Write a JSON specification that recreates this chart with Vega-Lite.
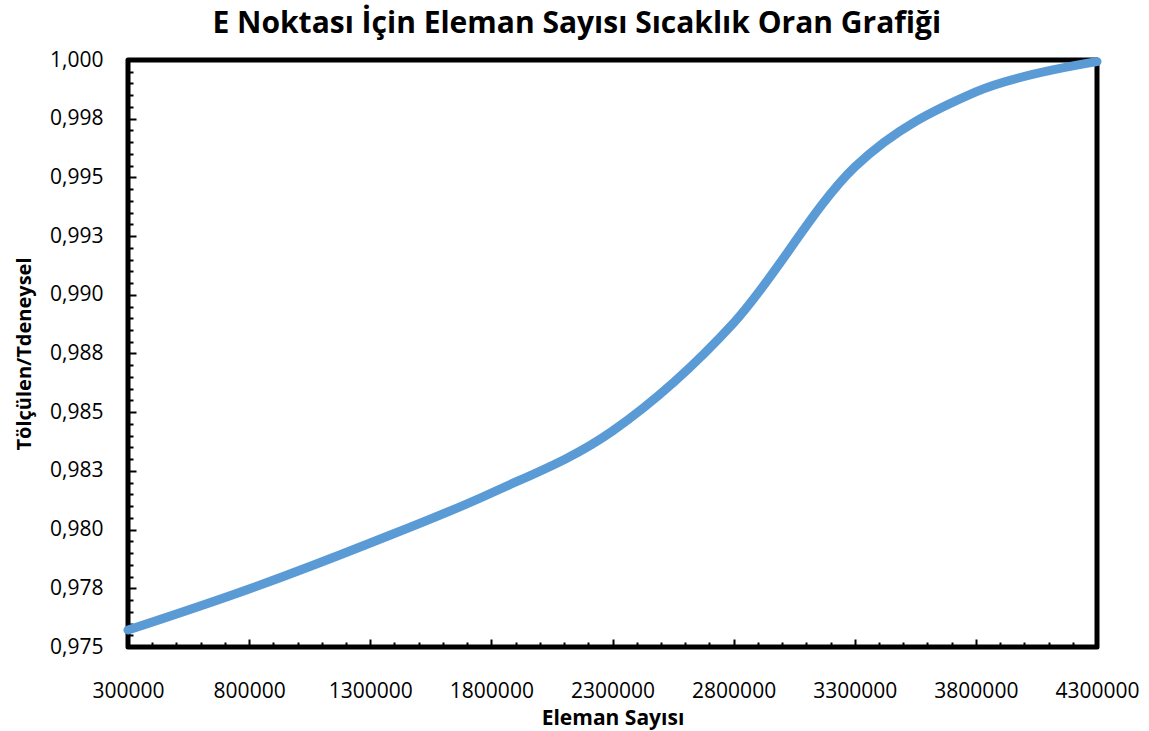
{
  "$schema": "https://vega.github.io/schema/vega-lite/v6.json",
  "width": 969,
  "height": 587,
  "autosize": {"type": "none"},
  "padding": {"left": 128, "top": 60, "right": 52, "bottom": 84},
  "background": "white",
  "title": {
    "text": "E Noktası İçin Eleman Sayısı Sıcaklık Oran Grafiği",
    "font": "Open Sans",
    "fontSize": 30,
    "fontWeight": "bold",
    "color": "black",
    "anchor": "middle",
    "frame": "bounds",
    "offset": 5
  },
  "config": {
    "view": {"stroke": "black", "strokeWidth": 5, "strokeJoin": "round"},
    "axis": {
      "domain": false,
      "grid": false,
      "tickColor": "black",
      "tickWidth": 2,
      "labelFont": "Open Sans",
      "labelFontSize": 21,
      "labelColor": "black",
      "labelOverlap": false,
      "labelFlush": false,
      "titleFont": "Open Sans",
      "titleFontWeight": "bold",
      "titleColor": "black"
    }
  },
  "data": {
    "values": [
      {"eleman": 300000, "oran": 0.97572},
      {"eleman": 800000, "oran": 0.97747},
      {"eleman": 1300000, "oran": 0.97943},
      {"eleman": 1800000, "oran": 0.98156},
      {"eleman": 2300000, "oran": 0.9842},
      {"eleman": 2800000, "oran": 0.9888},
      {"eleman": 3300000, "oran": 0.99544},
      {"eleman": 3800000, "oran": 0.99864},
      {"eleman": 4300000, "oran": 0.99993}
    ]
  },
  "mark": {
    "type": "line",
    "interpolate": "cardinal",
    "color": "#5B9BD5",
    "strokeWidth": 9,
    "strokeCap": "round"
  },
  "encoding": {
    "x": {
      "field": "eleman",
      "type": "quantitative",
      "scale": {"domain": [300000, 4300000], "nice": false, "zero": false},
      "axis": {
        "title": "Eleman Sayısı",
        "titleFontSize": 21,
        "titlePadding": 3,
        "format": "d",
        "values": [300000, 400000, 500000, 600000, 700000, 800000, 900000, 1000000, 1100000, 1200000, 1300000, 1400000, 1500000, 1600000, 1700000, 1800000, 1900000, 2000000, 2100000, 2200000, 2300000, 2400000, 2500000, 2600000, 2700000, 2800000, 2900000, 3000000, 3100000, 3200000, 3300000, 3400000, 3500000, 3600000, 3700000, 3800000, 3900000, 4000000, 4100000, 4200000, 4300000],
        "labelExpr": "(datum.value - 300000) % 500000 == 0 ? datum.label : ''",
        "tickSize": {"condition": {"test": "(datum.value - 300000) % 500000 == 0", "value": -8}, "value": -5},
        "labelPadding": 41
      }
    },
    "y": {
      "field": "oran",
      "type": "quantitative",
      "scale": {"domain": [0.975, 1.0], "nice": false, "zero": false},
      "axis": {
        "title": "Tölçülen/Tdeneysel",
        "titleFontSize": 20,
        "titlePadding": 15,
        "values": [0.975, 0.9755, 0.976, 0.9765, 0.977, 0.9775, 0.978, 0.9785, 0.979, 0.9795, 0.98, 0.9805, 0.981, 0.9815, 0.982, 0.9825, 0.983, 0.9835, 0.984, 0.9845, 0.985, 0.9855, 0.986, 0.9865, 0.987, 0.9875, 0.988, 0.9885, 0.989, 0.9895, 0.99, 0.9905, 0.991, 0.9915, 0.992, 0.9925, 0.993, 0.9935, 0.994, 0.9945, 0.995, 0.9955, 0.996, 0.9965, 0.997, 0.9975, 0.998, 0.9985, 0.999, 0.9995, 1.0],
        "labelExpr": "round(datum.value * 10000) % 25 == 0 ? replace(format(datum.value + 0.00001, '.3f'), '.', ',') : ''",
        "tickSize": {"condition": {"test": "round(datum.value * 10000) % 25 == 0", "value": -8}, "value": -5},
        "labelPadding": 33
      }
    }
  }
}
